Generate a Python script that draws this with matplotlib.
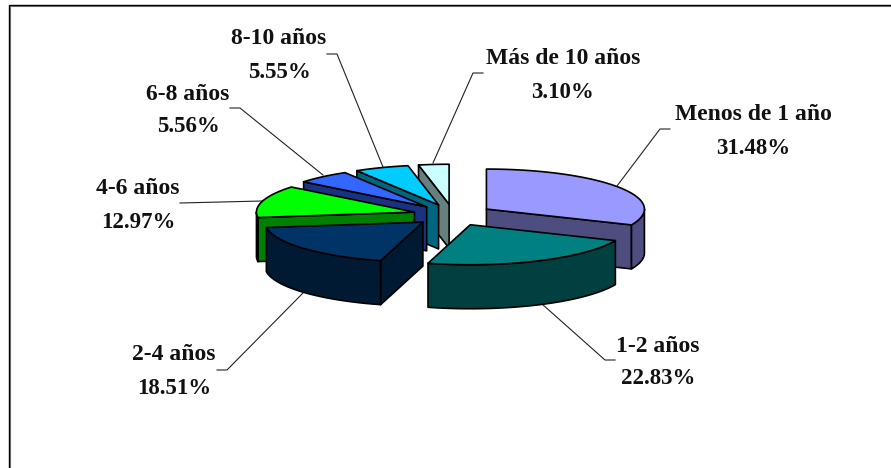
#!/usr/bin/env python
# Exploded 3D-style pie of years of service, drawn as polygons on a pixel canvas.
import numpy as np
import matplotlib
matplotlib.use('Agg')
import matplotlib.pyplot as plt
from matplotlib.patches import Polygon

labels = ['Menos de 1 año', '1-2 años', '2-4 años', '4-6 años', '6-8 años', '8-10 años', 'Más de 10 años']
shares = [31.48, 22.83, 18.51, 12.97, 5.56, 5.55, 3.10]
top_colors = ['#9999FF', '#008080', '#003366', '#00FF00', '#3366FF', '#00CCFF', '#CCFFFF']
side_colors = ['#4D4D80', '#004040', '#001A33', '#008000', '#1A3380', '#006680', '#668080']
draw_order = [6, 5, 4, 3, 0, 2, 1]

# projection of the pie onto the canvas
CX, CY = 453, 215
RX, RY = 158, 40
EX, EY = 40, 10.8
DEPTH = 44

# label centre x, name y, percentage y
label_pos = [(753, 114, 148), (658, 346, 379), (174, 355, 388), (138, 189, 222),
             (188, 94, 126), (279, 39, 73), (563, 59, 92)]
leaders = [[(617, 186), (660, 129), (670, 129)],
           [(542, 304), (605, 360), (615, 360)],
           [(303, 293), (227, 370), (217, 370)],
           [(262, 201), (180, 203)],
           [(323, 175), (240, 108), (230, 108)],
           [(383, 167), (337, 54), (327, 54)],
           [(433, 163), (473, 73), (483, 73)]]

fig = plt.figure(figsize=(8.91, 4.68), dpi=100)
ax = fig.add_axes([0, 0, 1, 1])
ax.set_xlim(0, 891)
ax.set_ylim(468, 0)
ax.axis('off')

# open frame, only top and left sides are drawn, with a grey inner edge
ax.plot([9.5, 9.5, 891], [468, 5.5, 5.5], color='#808080', lw=0.8, solid_joinstyle='miter')
ax.plot([8.5, 8.5, 891], [468, 4.5, 4.5], color='black', lw=1.0, solid_joinstyle='miter')


def rim(c, t):
    return np.column_stack([c[0] + RX * np.sin(t), c[1] - RY * np.cos(t)])


def face(pts, color, z):
    ax.add_patch(Polygon(pts, closed=True, fc=color, ec='black', lw=1.2, joinstyle='round', zorder=z))


edges = np.radians(np.concatenate([[0], np.cumsum(shares) / np.sum(shares) * 360]))
for z, i in enumerate(draw_order):
    t0, t1 = edges[i], edges[i + 1]
    mid = (t0 + t1) / 2
    c = np.array([CX + EX * np.sin(mid), CY - EY * np.cos(mid)])
    arc = rim(c, np.linspace(t0, t1, 80))
    down = np.array([0, DEPTH])

    # radial walls that face the viewer
    if np.sin(t0) < -1e-6:
        face([c, arc[0], arc[0] + down, c + down], side_colors[i], z * 10 + 1)
    if np.sin(t1) > 1e-6:
        face([c, arc[-1], arc[-1] + down, c + down], side_colors[i], z * 10 + 1)

    # front part of the outer wall
    lo, hi = max(t0, np.pi / 2), min(t1, 3 * np.pi / 2)
    if hi > lo:
        front = rim(c, np.linspace(lo, hi, 60))
        face(np.vstack([front, front[::-1] + down]), side_colors[i], z * 10 + 2)

    face(np.vstack([c, arc]), top_colors[i], z * 10 + 3)

for line in leaders:
    xs, ys = zip(*line)
    ax.plot(xs, ys, color='#222222', lw=0.8, zorder=0)

for name, val, (x, y1, y2) in zip(labels, shares, label_pos):
    ax.text(x, y1, name, ha='center', va='center', family='Liberation Serif',
            fontweight='bold', fontsize=17, color='#111111', zorder=100)
    ax.text(x, y2, '%.2f%%' % val, ha='center', va='center', family='Liberation Serif',
            fontweight='bold', fontsize=16.5, color='#111111', zorder=100)

fig.savefig('out.png', dpi=100)
